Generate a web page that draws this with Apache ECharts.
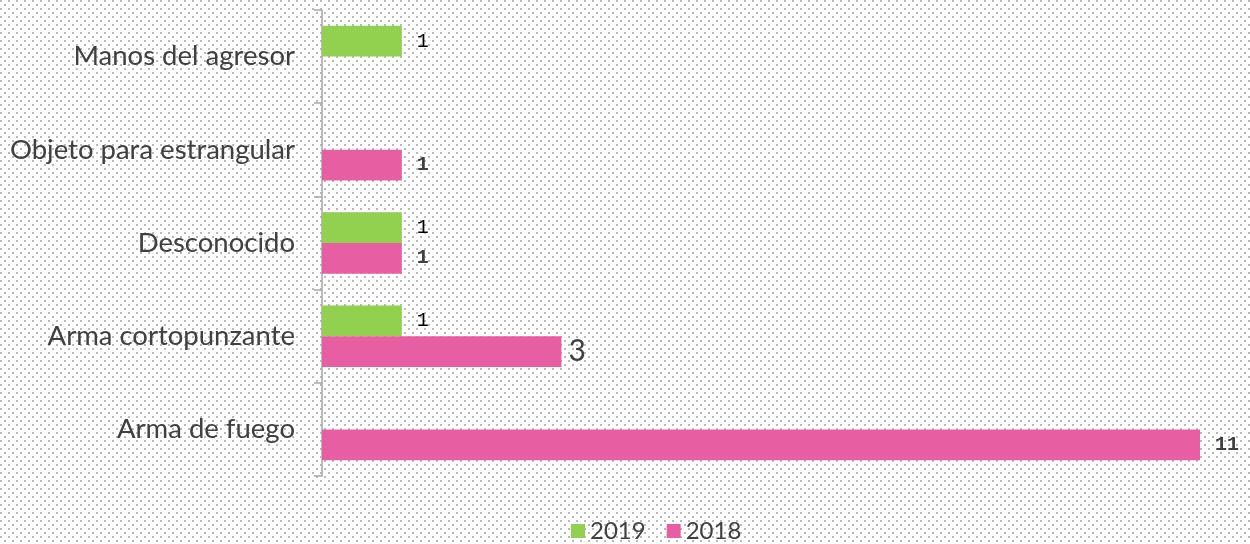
<!DOCTYPE html>
<html>
<head>
<meta charset="utf-8">
<script src="https://cdn.jsdelivr.net/npm/echarts@6/dist/echarts.min.js"></script>
<style>
html,body{margin:0;padding:0;background:#fff;}
#chart{width:1250px;height:544px;}
</style>
</head>
<body>
<div id="chart"></div>
<script>
// Data (top to bottom as in the picture)
const categories = ['Manos del agresor', 'Objeto para estrangular', 'Desconocido', 'Arma cortopunzante', 'Arma de fuego'];
const values2019 = [1, null, 1, 1, null];
const values2018 = [null, 1, 1, 3, 11];
const seriesNames = ['2019', '2018'];

// dotted background tile
const tile = document.createElement('canvas');
tile.width = 8; tile.height = 8;
const tctx = tile.getContext('2d');
tctx.fillStyle = '#fff';
tctx.fillRect(0, 0, 8, 8);
tctx.fillStyle = '#b9b9b9';
tctx.fillRect(0, 0, 2, 2);
tctx.fillRect(4, 4, 2, 2);

const monoLabel = {
  show: true, position: 'right', distance: 15,
  fontFamily: 'Liberation Mono', fontSize: 20
};

function toData(arr, bigIndex) {
  return arr.map((v, i) => {
    if (v === null) return '-';
    if (i === bigIndex) {
      return { value: v, label: { fontFamily: 'Lato', fontWeight: 'normal', fontSize: 30, color: '#404040', distance: 7 } };
    }
    return v;
  });
}

const chart = echarts.init(document.getElementById('chart'), null, { renderer: 'canvas' });
chart.setOption({
  animation: false,
  backgroundColor: { image: tile, repeat: 'repeat' },
  grid: { left: 322, right: 50, top: 10, bottom: 68, containLabel: false },
  legend: {
    data: seriesNames,
    left: 566, top: 514,
    itemWidth: 14, itemHeight: 14, itemGap: 21,
    icon: 'rect',
    textStyle: { fontFamily: 'Lato', fontSize: 24, color: '#404040' }
  },
  xAxis: { type: 'value', min: 0, max: 11, show: false, splitLine: { show: false } },
  yAxis: {
    type: 'category', data: categories, inverse: true,
    axisLine: { show: true, lineStyle: { color: '#a6a6a6', width: 1.5 } },
    axisTick: { show: true, length: 8, lineStyle: { color: '#a6a6a6', width: 1.5 } },
    axisLabel: { margin: 27, fontFamily: 'Lato', fontSize: 27.5, color: '#404040' }
  },
  series: [
    {
      name: '2019', type: 'bar', barGap: '0%', barCategoryGap: '34%',
      itemStyle: { color: '#92d050' },
      label: Object.assign({}, monoLabel, { color: '#000', fontWeight: 'normal' }),
      data: toData(values2019, -1)
    },
    {
      name: '2018', type: 'bar', barGap: '0%', barCategoryGap: '34%',
      itemStyle: { color: '#e85ea2' },
      label: Object.assign({}, monoLabel, { color: '#404040', fontWeight: 'bold' }),
      data: toData(values2018, 3)
    }
  ]
});
</script>
</body>
</html>
